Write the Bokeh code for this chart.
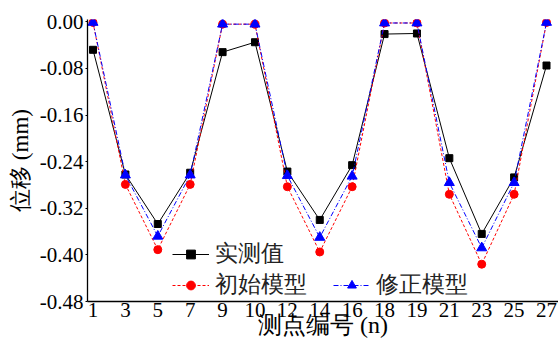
from bokeh.plotting import figure
from bokeh.models import (FixedTicker, NumeralTickFormatter, Range1d, Legend,
                          LegendItem)
from bokeh.embed import file_html
from bokeh.resources import INLINE

# ---------------- data ----------------
points = ["1", "3", "5", "7", "9", "10", "12", "14", "16", "18", "19", "21", "23", "25", "27"]
measured = [-0.048, -0.262, -0.347, -0.259, -0.052, -0.035, -0.257, -0.340, -0.246,
            -0.021, -0.020, -0.234, -0.364, -0.267, -0.075]
initial_model = [-0.001, -0.279, -0.391, -0.279, -0.004, -0.004, -0.283, -0.395, -0.283,
                 -0.002, -0.002, -0.296, -0.416, -0.296, -0.001]
updated_model = [-0.001, -0.263, -0.368, -0.263, -0.004, -0.004, -0.264, -0.370, -0.265,
                 -0.002, -0.002, -0.276, -0.388, -0.276, -0.001]
y_ticks = [-0.48, -0.40, -0.32, -0.24, -0.16, -0.08, 0.00]
series_names = ["实测值", "初始模型", "修正模型"]
x_title = "测点编号 (n)"
y_title = "位移 (mm)"

FONT = "Liberation Serif"

xs = list(range(len(points)))

p = figure(width=558, height=345, output_backend="svg", toolbar_location=None,
           x_range=Range1d(-0.17, 14.37), y_range=Range1d(-0.48, 0.004),
           min_border_left=87, min_border_right=0, min_border_top=19,
           min_border_bottom=44)
p.outline_line_color = None
p.grid.visible = False
p.background_fill_color = "white"

# series
l1 = p.line(xs, measured, line_color="black", line_width=1)
s1 = p.scatter(xs, measured, marker="square", size=7, fill_color="black", line_color="black")
l2 = p.line(xs, initial_model, line_color="red", line_width=1, line_dash="3 2")
s2 = p.scatter(xs, initial_model, marker="circle", size=8, fill_color="red", line_color="red")
l3 = p.line(xs, updated_model, line_color="blue", line_width=1, line_dash="5 2 1 2")
s3 = p.scatter(xs, updated_model, marker="triangle", size=10, fill_color="blue", line_color="blue")

# axes
xa = p.xaxis[0]
xa.ticker = FixedTicker(ticks=xs)
xa.major_label_overrides = {i: t for i, t in enumerate(points)}
xa.major_tick_out = 0
xa.major_tick_in = 0
xa.minor_tick_out = 0
xa.minor_tick_in = 0
xa.major_label_standoff = 1
xa.major_label_text_font = FONT
xa.major_label_text_font_size = "21px"
xa.major_label_text_color = "black"
xa.axis_line_color = "black"
xa.axis_line_width = 1.3
xa.axis_label = x_title
xa.axis_label_text_font = FONT
xa.axis_label_text_font_size = "24px"
xa.axis_label_text_font_style = "normal"
xa.axis_label_text_color = "black"
xa.axis_label_standoff = -8

ya = p.yaxis[0]
ya.ticker = FixedTicker(ticks=y_ticks)
ya.formatter = NumeralTickFormatter(format="0.00")
ya.major_tick_out = 2
ya.major_tick_in = 0
ya.minor_tick_out = 0
ya.minor_tick_in = 0
ya.major_label_standoff = 2
ya.major_label_text_font = FONT
ya.major_label_text_font_size = "21px"
ya.major_label_text_color = "black"
ya.axis_line_color = "black"
ya.axis_line_width = 1.3
ya.axis_label = y_title
ya.axis_label_text_font = FONT
ya.axis_label_text_font_size = "23px"
ya.axis_label_text_font_style = "normal"
ya.axis_label_text_color = "black"
ya.axis_label_standoff = 4

# legends
def make_legend(items, x, y):
    lg = Legend(items=items, location=(x, y), orientation="vertical",
                border_line_alpha=0, background_fill_alpha=0,
                padding=0, margin=0, spacing=-5,
                glyph_width=37, glyph_height=22, label_standoff=6,
                label_text_font=FONT, label_text_font_size="23px",
                label_text_color="#222222", label_height=27)
    p.add_layout(lg)

make_legend([LegendItem(label=series_names[0], renderers=[l1, s1]),
             LegendItem(label=series_names[1], renderers=[l2, s2])], 85, 1)
make_legend([LegendItem(label=series_names[2], renderers=[l3, s3])], 246, 1)

open("out.html", "w").write(file_html(p, INLINE))
